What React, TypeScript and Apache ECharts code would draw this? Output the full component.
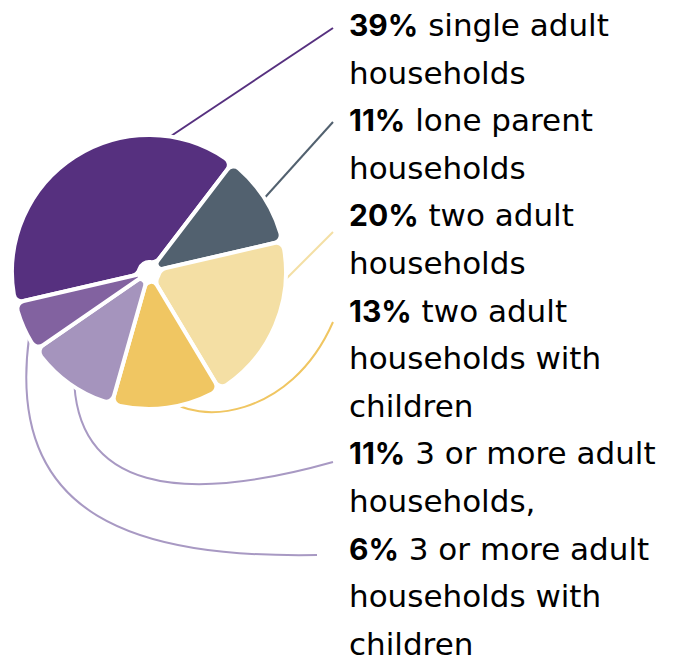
import React, { useEffect, useRef } from "react";
import * as echarts from "echarts";

const percents = [39, 11, 20, 13, 11, 6];
const names = [
  "single adult\nhouseholds",
  "lone parent\nhouseholds",
  "two adult\nhouseholds",
  "two adult\nhouseholds with\nchildren",
  "3 or more adult\nhouseholds,",
  "3 or more adult\nhouseholds with\nchildren",
];
const colors = ["#56307f", "#52616f", "#f4dfa4", "#f0c662", "#a594bd", "#8262a0"];
const lineColors = ["#56307f", "#52616f", "#f4dfa4", "#f0c662", "#a899c3", "#a899c3"];
// first text line index of each label block
const labelLineIndex = [0, 2, 4, 6, 9, 11];

const FONT = "'DejaVu Sans', sans-serif";
const BFONT = "Inter, 'DejaVu Sans', sans-serif";
const LH = 47.6;

export default function App() {
  const ref = useRef<HTMLDivElement>(null);
  useEffect(() => {
    if (!ref.current) return;
    const chart = echarts.init(ref.current, null, { renderer: "svg" });
    const lw = 2;
    const option: any = {
      animation: false,
      backgroundColor: "#ffffff",
      graphic: [
        { type: "line", z: 0, shape: { x1: 165, y1: 140, x2: 333, y2: 28 }, style: { stroke: lineColors[0], lineWidth: lw } },
        { type: "line", z: 0, shape: { x1: 260, y1: 203, x2: 333, y2: 122 }, style: { stroke: lineColors[1], lineWidth: lw } },
        { type: "line", z: 0, shape: { x1: 278, y1: 287, x2: 333, y2: 232 }, style: { stroke: lineColors[2], lineWidth: lw } },
        {
          type: "bezierCurve", z: 0,
          shape: { x1: 168, y1: 398, cpx1: 195, cpy1: 425, cpx2: 290, cpy2: 420, x2: 333, y2: 322 },
          style: { stroke: lineColors[3], lineWidth: lw, fill: null },
        },
        {
          type: "bezierCurve", z: 0,
          shape: { x1: 74, y1: 375, cpx1: 75, cpy1: 490, cpx2: 180, cpy2: 505, x2: 333, y2: 462 },
          style: { stroke: lineColors[4], lineWidth: lw, fill: null },
        },
        {
          type: "bezierCurve", z: 0,
          shape: { x1: 29, y1: 338, cpx1: 5, cpy1: 520, cpx2: 140, cpy2: 558, x2: 317, y2: 555 },
          style: { stroke: lineColors[5], lineWidth: lw, fill: null },
        },
      ],
      series: [
        {
          type: "pie",
          z: 2,
          center: [149, 272],
          radius: [10, 137],
          startAngle: 193,
          clockwise: true,
          avoidLabelOverlap: false,
          itemStyle: { borderColor: "#ffffff", borderWidth: 4, borderRadius: [10, 8] },
          label: {
            show: true,
            position: "outside",
            color: "#000",
            fontFamily: FONT,
            fontSize: 31,
            lineHeight: LH,
            formatter: (p: any) => `{b|${percents[p.dataIndex]}%} ${names[p.dataIndex]}`,
            rich: {
              b: { fontWeight: "bold", fontFamily: BFONT, fontSize: 30, lineHeight: LH, color: "#000" },
            },
          },
          labelLine: { show: false },
          labelLayout: (params: any) => ({
            x: 349,
            y: 1.2 + LH * labelLineIndex[params.dataIndex],
            align: "left",
            verticalAlign: "top",
          }),
          emphasis: { disabled: true },
          data: percents.map((v, i) => ({ value: v, name: names[i], itemStyle: { color: colors[i] } })),
        },
      ],
    };
    chart.setOption(option);
    return () => chart.dispose();
  }, []);
  return <div ref={ref} style={{ position: "fixed", left: 0, top: 0, width: 682, height: 663 }} />;
}
